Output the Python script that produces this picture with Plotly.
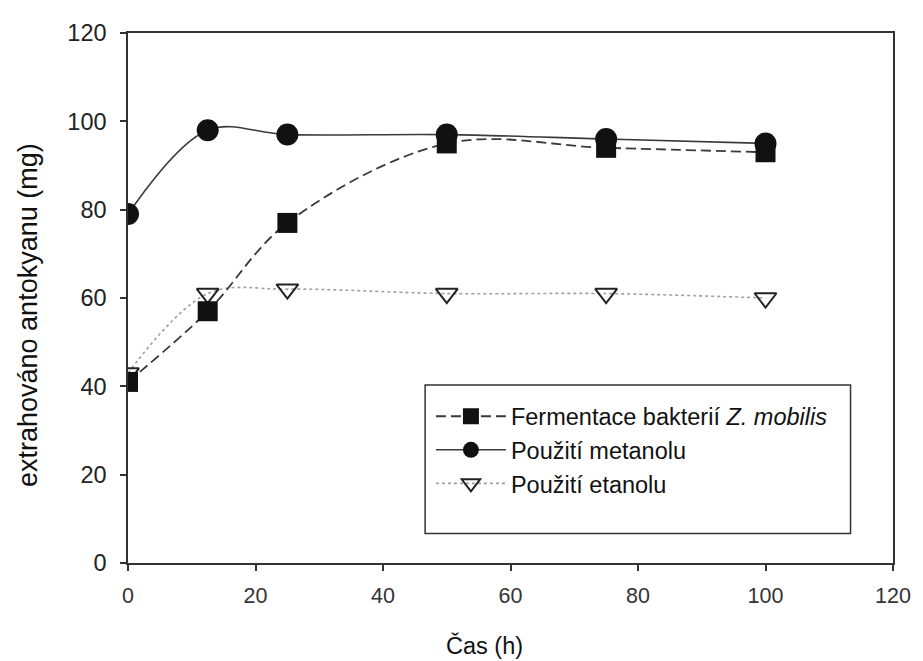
import plotly.graph_objects as go

time_h = [0, 12.5, 25, 50, 75, 100]
zmobilis = [41, 57, 77, 95, 94, 93]
metanol = [79, 98, 97, 97, 96, 95]
etanol = [43, 61, 62, 61, 61, 60]

names = ["Fermentace bakterií <i>Z. mobilis</i>", "Použití metanolu", "Použití etanolu"]
tick_vals = [0, 20, 40, 60, 80, 100, 120]

fig = go.Figure()
fig.add_trace(go.Scatter(
    x=time_h, y=etanol, name=names[2], mode="lines+markers", legendrank=3,
    line=dict(color="#a0a0a0", width=1.6, dash="dot", shape="spline", smoothing=1),
    marker=dict(symbol="triangle-down-open", size=19, color="#222222", line=dict(width=2, color="#222222")),
))
fig.add_trace(go.Scatter(
    x=time_h, y=zmobilis, name=names[0], mode="lines+markers", legendrank=1,
    line=dict(color="#3a3a3a", width=1.8, dash="10px,5px", shape="spline", smoothing=1),
    marker=dict(symbol="square", size=20, color="#111111"),
))
fig.add_trace(go.Scatter(
    x=time_h, y=metanol, name=names[1], mode="lines+markers", legendrank=2,
    line=dict(color="#3a3a3a", width=1.6, shape="spline", smoothing=1),
    marker=dict(symbol="circle", size=22, color="#111111"),
))

fig.add_shape(type="rect", xref="paper", yref="paper",
              x0=0.3884, x1=0.9445, y0=0.0557, y1=0.3358,
              line=dict(color="#333333", width=1.5), fillcolor="rgba(0,0,0,0)")

fig.add_annotation(text="extrahováno antokyanu (mg)", xref="paper", yref="paper",
                   x=-0.131, y=0.4675, textangle=-90, showarrow=False,
                   xanchor="center", yanchor="middle",
                   font=dict(size=27, color="#111111"))

fig.add_annotation(text="Čas (h)", xref="paper", yref="paper",
                   x=0.466, y=-0.155, showarrow=False,
                   xanchor="center", yanchor="middle",
                   font=dict(size=23.5, color="#111111"))

# page body has an 8px margin, so the figure is sized to end at the window edges
fig.update_layout(
    width=915, height=653,
    margin=dict(l=120, r=20, t=16, b=98),
    paper_bgcolor="white", plot_bgcolor="white",
    font=dict(family="Arial, Liberation Sans, sans-serif", color="#111111", size=20),
    legend=dict(x=0.396, y=0.318, xanchor="left", yanchor="top",
                bgcolor="rgba(0,0,0,0)", borderwidth=0,
                font=dict(size=23.5), traceorder="normal", tracegroupgap=0,
                itemwidth=70),
    xaxis=dict(range=[0, 120], tickvals=tick_vals,
               ticks="outside", ticklen=6, tickwidth=1.5, tickcolor="#333", showgrid=False, zeroline=False,
               showline=True, linecolor="#333", linewidth=1.5, mirror=True,
               tickfont=dict(size=21.5, color="#333333"), ticklabelstandoff=6),
    yaxis=dict(range=[0, 120], tickvals=tick_vals,
               ticks="outside", ticklen=6, tickwidth=1.5, tickcolor="#333", showgrid=False, zeroline=False,
               showline=True, linecolor="#333", linewidth=1.5, mirror=True,
               tickfont=dict(size=23.5, color="#222222"), ticklabelstandoff=9),
)

fig.write_html("out.html")
